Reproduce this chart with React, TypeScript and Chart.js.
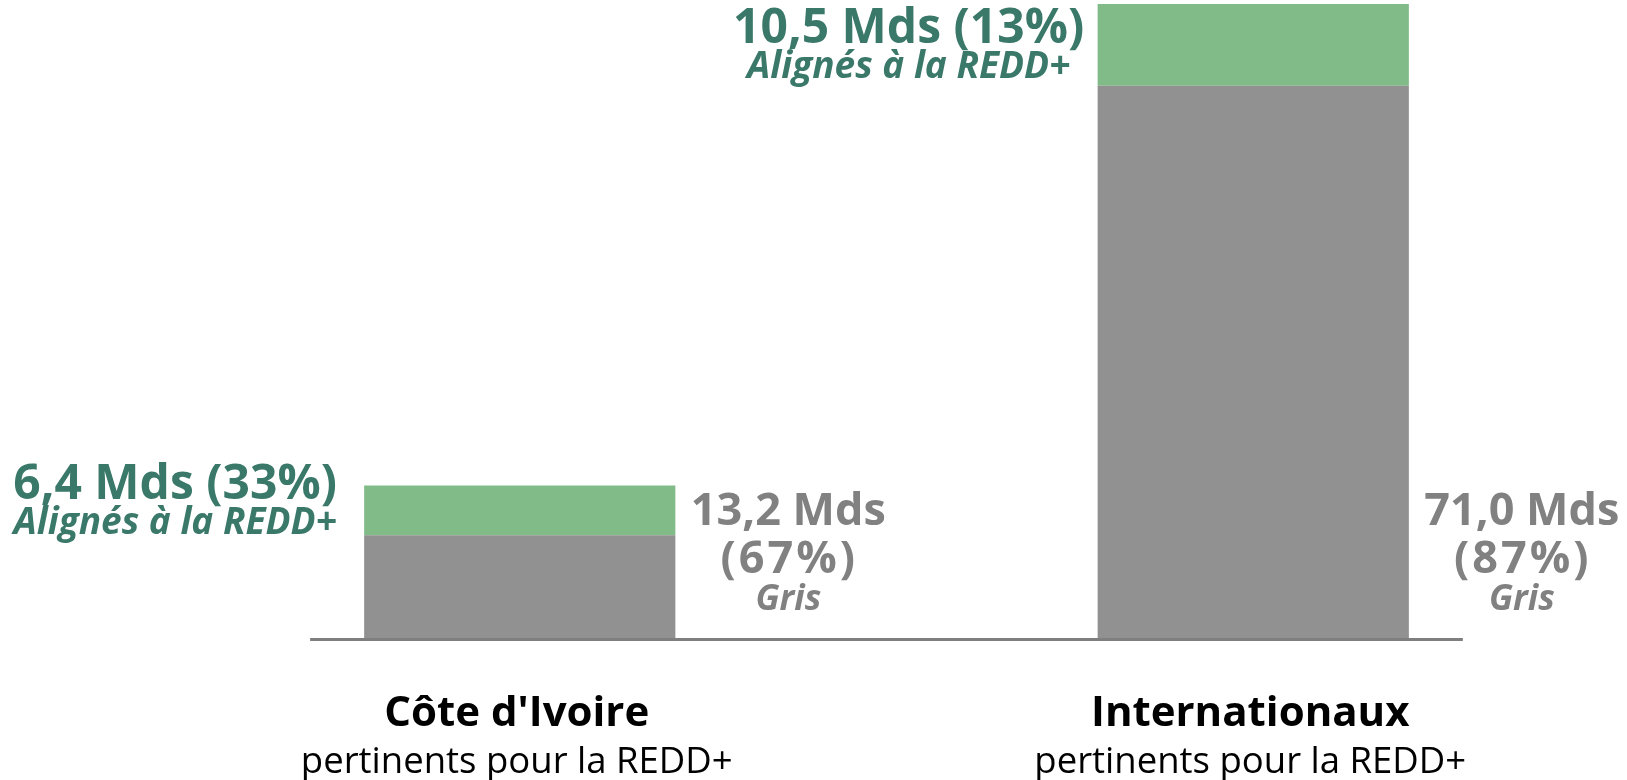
import React, { useEffect, useRef } from "react";
import { Chart, registerables } from "chart.js";

Chart.register(...registerables);

const categories = ["Côte d'Ivoire", "Internationaux"];
const subtitles = ["pertinents pour la REDD+", "pertinents pour la REDD+"];
const grisValues = [13.2, 71.0];
const alignedValues = [6.4, 10.5];
const grisPercents = [67, 87];
const alignedPercents = [33, 13];
const alignedCaption = "Alignés à la REDD+";
const grisCaption = "Gris";

const GREEN = "#80bb88";
const GRAY_BAR = "#919191";
const TEAL = "#3a786a";
const GRAY_TEXT = "#818181";
const AXIS = "#7f7f7f";
const FONT = "'Open Sans', 'Noto Sans', sans-serif";

const fmt = (v: number) => v.toFixed(1).replace(".", ",") + " Mds";

const labelsPlugin = {
  id: "customLabels",
  afterDatasetsDraw(chart: any) {
    const ctx = chart.ctx as CanvasRenderingContext2D;
    const grayBars = chart.getDatasetMeta(0).data;
    const greenBars = chart.getDatasetMeta(1).data;
    const baseY = chart.scales.y.getPixelForValue(0);
    const n = grayBars.length;
    ctx.save();
    // axis line
    const firstLeft = grayBars[0].x - grayBars[0].width / 2;
    const lastRight = grayBars[n - 1].x + grayBars[n - 1].width / 2;
    ctx.fillStyle = AXIS;
    ctx.fillRect(firstLeft - 54, Math.round(baseY), lastRight - firstLeft + 108, 3);

    ctx.textBaseline = "alphabetic";
    ctx.textAlign = "center";
    for (let i = 0; i < n; i++) {
      const g = grayBars[i];
      const gr = greenBars[i];
      const left = g.x - g.width / 2;
      const right = g.x + g.width / 2;

      // aligned (green) label left of bar
      const b1 = Math.max(gr.y + 13, 43);
      ctx.fillStyle = TEAL;
      ctx.font = `bold 48px ${FONT}`;
      ctx.fillText(`${fmt(alignedValues[i])} (${alignedPercents[i]}%)`, left - 189, b1);
      ctx.font = `italic bold 37px ${FONT}`;
      ctx.fillText(alignedCaption, left - 189, b1 + 35);

      // gray label right of bar
      const cx = right + 113;
      ctx.fillStyle = GRAY_TEXT;
      ctx.font = `bold 45px ${FONT}`;
      ctx.fillText(fmt(grisValues[i]), cx, baseY - 113);
      (ctx as any).letterSpacing = "3px";
      ctx.fillText(`(${grisPercents[i]}%)`, cx + 1, baseY - 65);
      (ctx as any).letterSpacing = "0px";
      ctx.font = `italic bold 35px ${FONT}`;
      ctx.fillText(grisCaption, cx, baseY - 28);

      // category labels
      ctx.fillStyle = "#000000";
      ctx.font = `bold 42px ${FONT}`;
      ctx.fillText(categories[i], g.x - 3, baseY + 88);
      ctx.font = `36.5px ${FONT}`;
      ctx.fillText(subtitles[i], g.x - 3, baseY + 135);
    }
    ctx.restore();
  },
};

export default function App() {
  const canvasRef = useRef<HTMLCanvasElement | null>(null);

  useEffect(() => {
    if (!canvasRef.current) return;
    const totals = grisValues.map((v, i) => v + alignedValues[i]);
    const chart = new Chart(canvasRef.current, {
      type: "bar",
      data: {
        labels: categories,
        datasets: [
          {
            label: grisCaption,
            data: grisValues,
            backgroundColor: GRAY_BAR,
            borderWidth: 0,
            categoryPercentage: 1,
            barPercentage: 0.4243,
          },
          {
            label: alignedCaption,
            data: alignedValues,
            backgroundColor: GREEN,
            borderWidth: 0,
            categoryPercentage: 1,
            barPercentage: 0.4243,
          },
        ],
      },
      options: {
        animation: false,
        responsive: true,
        maintainAspectRatio: false,
        layout: { padding: { left: 153, right: 7, top: 4, bottom: 142 } },
        plugins: { legend: { display: false }, tooltip: { enabled: false } },
        scales: {
          x: { stacked: true, display: false },
          y: { stacked: true, display: false, min: 0, max: Math.max(...totals) },
        },
      },
      plugins: [labelsPlugin],
    });
    return () => chart.destroy();
  }, []);

  return (
    <div style={{ position: "absolute", left: 0, top: 0, width: 1627, height: 780, background: "#ffffff" }}>
      <canvas ref={canvasRef} />
    </div>
  );
}
